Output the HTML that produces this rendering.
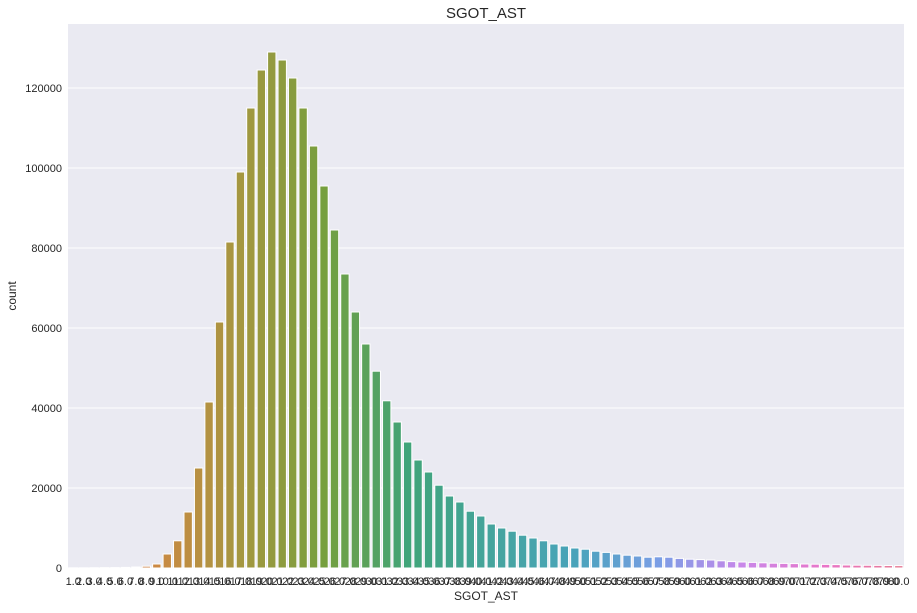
<!DOCTYPE html>
<html><head><meta charset="utf-8"><style>
body{margin:0;background:#fff;font-family:"Liberation Sans",sans-serif}
</style></head><body>
<svg id="c" width="917" height="608" xmlns="http://www.w3.org/2000/svg">
<rect x="68" y="24" width="836" height="544" fill="#eaeaf2"/>
<g id="grid"></g><g id="bars"></g><g id="yt"></g><g id="xt"></g>
<text x="486" y="18" text-anchor="middle" font-size="15" fill="#262626">SGOT_AST</text>
<text x="486" y="600" text-anchor="middle" font-size="12" fill="#262626">SGOT_AST</text>
<text transform="translate(16,296) rotate(-90)" text-anchor="middle" font-size="12" fill="#262626">count</text>
</svg>
<script>
const categories=[];for(let i=1;i<=80;i++)categories.push(i+".0");
const counts=[50,50,60,80,100,150,250,450,1000,3500,6800,14000,25000,41500,61500,81500,99000,115000,124500,129000,127000,122500,115000,105500,95500,84500,73500,64000,56000,49200,41800,36500,31500,27000,24000,20700,18000,16500,14200,13000,11000,10000,9200,8200,7500,6800,6000,5500,5000,4700,4200,3900,3500,3200,3000,2700,2800,2700,2400,2200,2100,2000,1800,1600,1500,1400,1300,1200,1150,1100,1000,950,900,850,750,700,680,650,620,600];
const yTicks=[0,20000,40000,60000,80000,100000,120000];
const anchors=["#f77189","#dc8932","#ae9d31","#77ab31","#33b07a","#36ada4","#38a9c5","#6e9bf4","#cc7af4","#f565cc","#f77189"];
const NS="http://www.w3.org/2000/svg";
const X0=68,X1=904,Y0=568,Ymax=136000,Ytop=24;
const bw=(X1-X0)/categories.length;
const xs=i=>X0+bw*i;
const ys=v=>Y0-v/Ymax*(Y0-Ytop);
function hex(h){return[1,3,5].map(k=>parseInt(h.substr(k,2),16))}
function colorAt(i){const t=i/categories.length*(anchors.length-1);const k=Math.floor(t),f=t-k;const a=hex(anchors[k]),b=hex(anchors[k+1]);
let c=a.map((v,j)=>v+(b[j]-v)*f);const m=(c[0]+c[1]+c[2])/3;c=c.map(v=>Math.round(m+(v-m)*0.8));return`rgb(${c})`}
function el(t,a,p){const e=document.createElementNS(NS,t);for(const k in a)e.setAttribute(k,a[k]);p.appendChild(e);return e}
const g=document.getElementById('grid'),yt=document.getElementById('yt');
yTicks.forEach(v=>{const l=el('line',{x1:X0,x2:X1,y1:ys(v),y2:ys(v),stroke:'#fff','stroke-width':1},g);


const t=el('text',{x:X0-6,y:ys(v)+4,'text-anchor':'end','font-size':11,fill:'#262626'},yt);t.textContent=v;

});
const bg=document.getElementById('bars'),xt=document.getElementById('xt');
counts.forEach((v,i)=>{const r=el('rect',{x:xs(i)+bw*0.1,y:ys(v),width:bw*0.8,height:Y0-ys(v),fill:colorAt(i),stroke:'#fff','stroke-width':1},bg);


const t=el('text',{x:xs(i)+bw/2,y:585,'text-anchor':'middle','font-size':11,fill:'#262626'},xt);t.textContent=categories[i];

});
</script>
</body></html>
